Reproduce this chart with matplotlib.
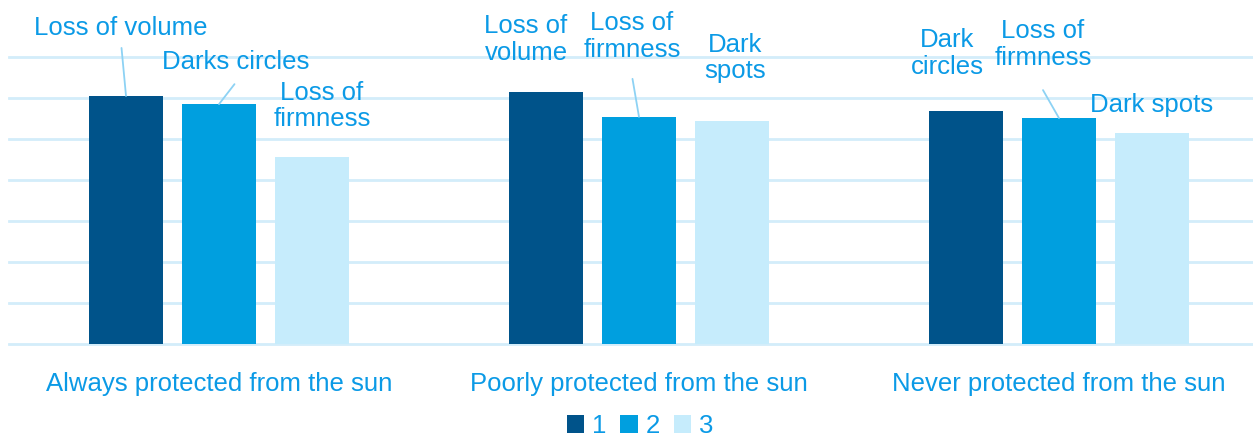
import numpy as np
import matplotlib
matplotlib.use('Agg')
import matplotlib.pyplot as plt

# data (gridline units, no scale shown)
groups = ['Always protected from the sun', 'Poorly protected from the sun', 'Never protected from the sun']
series_names = ['1', '2', '3']
vals_1 = [6.05, 6.15, 5.68]
vals_2 = [5.85, 5.54, 5.51]
vals_3 = [4.56, 5.44, 5.15]
bar_labels = [
	['Loss of volume', 'Darks circles', 'Loss of\nfirmness'],
	['Loss of\nvolume', 'Loss of\nfirmness', 'Dark\nspots'],
	['Dark\ncircles', 'Loss of\nfirmness', 'Dark spots'],
]

colors = ['#00538A', '#009FDF', '#C6ECFC']
txt_col = '#0B9AE6'
grid_col = '#D3EDFA'
leader_col = '#8DD2F4'

# label offsets in pixels from bar top centre
label_offsets = [
	[(-5, 68), (17, 42), (10, 51)],
	[(-20, 52), (-7, 80), (3, 63)],
	[(-19, 58), (-16, 74), (0, 28)],
]
# leader line end (pixels from bar top centre), None = no leader
leader_ends = [
	[(-4.5, 48), (15.5, 20), None],
	[None, (-6.5, 38), None],
	[None, (-16, 28), None],
]

plt.rcParams['font.family'] = ['Liberation Sans', 'DejaVu Sans']

fig = plt.figure(figsize=(12.53, 4.37), dpi=100)
ax = fig.add_axes([9/1253, 1-344/437, 1260/1253, 287/437])

x = np.arange(len(groups))
width = 0.174
step = 0.2214
all_vals = [vals_1, vals_2, vals_3]
for i, v in enumerate(all_vals):
	ax.bar(x + (i-1)*step, v, width, color=colors[i], label=series_names[i], zorder=3)

# labels above bars
for g in range(len(groups)):
	for i in range(3):
		bx = x[g] + (i-1)*step
		by = all_vals[i][g]
		dx, dy = label_offsets[g][i]
		ax.annotate(bar_labels[g][i], xy=(bx, by), xytext=(dx, dy),
			textcoords='offset pixels', ha='center', va='center',
			fontsize=18.5, color=txt_col, linespacing=1.15, zorder=4,
			annotation_clip=False)
		le = leader_ends[g][i]
		if le is not None:
			ax.annotate('', xy=(bx, by), xytext=le, textcoords='offset pixels',
				arrowprops=dict(arrowstyle='-', color=leader_col, lw=1.3, shrinkA=0, shrinkB=0),
				annotation_clip=False)

ax.set_xlim(-0.5, 2.5)
ax.set_ylim(0, 7)
ax.set_yticks(np.arange(0, 8, 1))
ax.yaxis.grid(True, color=grid_col, lw=2, zorder=0)
for gl in ax.get_ygridlines():
	gl.set_clip_on(False)
ax.set_axisbelow(True)
ax.tick_params(axis='y', left=False, labelleft=False)
ax.set_xticks(x)
ax.set_xticklabels(groups, fontsize=18.5, color=txt_col)
ax.tick_params(axis='x', bottom=False, pad=17)
for s in ax.spines.values():
	s.set_visible(False)

leg = fig.legend(loc='center', bbox_to_anchor=(640/1253, 1-426/437), ncol=3,
	frameon=False, fontsize=18.5, handlelength=0.68, handleheight=0.68,
	handletextpad=0.3, columnspacing=0.55, borderaxespad=0)
for t in leg.get_texts():
	t.set_color(txt_col)

fig.savefig('out.png', dpi=100)
